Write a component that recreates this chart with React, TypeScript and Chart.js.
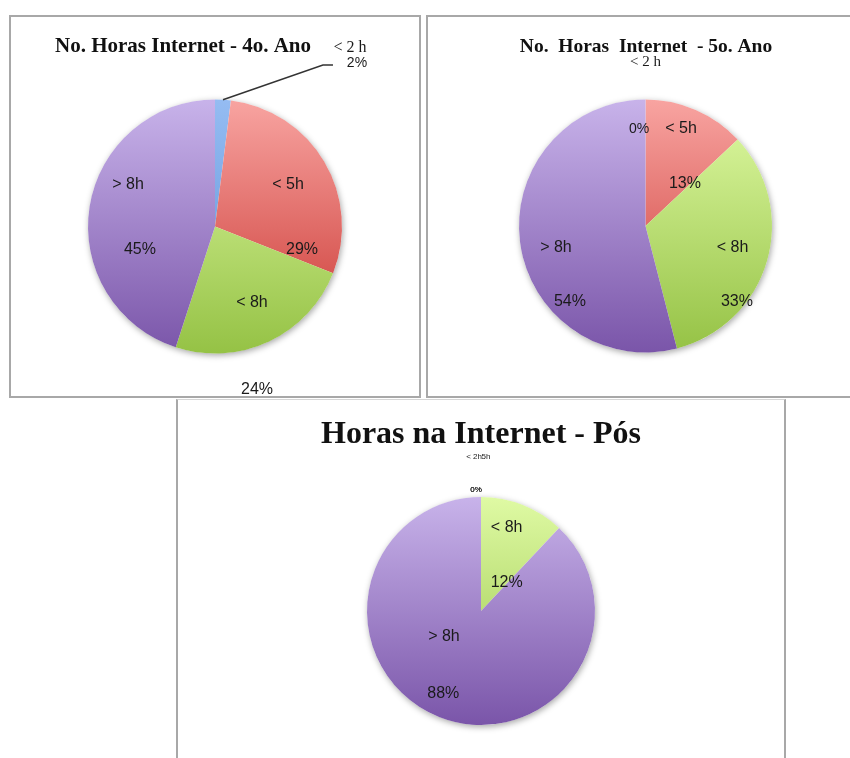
import React, { useEffect, useRef } from "react";
import { Chart, registerables } from "chart.js";

Chart.register(...registerables);

const W = 850;
const H = 758;

// ---- data ----
const categories = ["< 2h", "< 5h", "< 8h", "> 8h"];
const horas4oAno = [2, 29, 24, 45];
const horas5oAno = [0, 13, 33, 54];
const horasPos = [0, 0, 12, 88];

const title4 = "No. Horas Internet - 4o. Ano";
const title5 = "No.  Horas  Internet  - 5o. Ano";
const titlePos = "Horas na Internet - Pós";

const names4 = ["< 2 h", "< 5h", "< 8h", "> 8h"];
const names5 = ["< 2 h", "< 5h", "< 8h", "> 8h"];
const namesPos = ["< 2h", "5h", "< 8h", "> 8h"];

// ---- styles ----
const topColors = ["#95BCF2", "#F8A4A1", "#DFFAA4", "#C8B3EA"];
const bottomColors = ["#5A8ED6", "#C9342F", "#95C245", "#7A55A9"];

const SANS = "'Liberation Sans', Arial, sans-serif";
const SERIF = "'Liberation Serif', 'Times New Roman', serif";

type PieCfg = {
  values: number[];
  names: string[];
  title: string;
  titleFont: string;
  titleX: number;
  titleY: number;
  cx: number;
  cy: number;
  r: number;
  // label offsets relative to the pie centre, in units of the radius
  nameOff: number[][];
  pctOff: number[][];
  nameFonts: string[];
  pctFonts: string[];
  leader?: { index: number; pts: number[][] };
};

const big = `16px ${SANS}`;

const pies: PieCfg[] = [
  {
    values: horas4oAno,
    names: names4,
    title: title4,
    titleFont: `bold 21px ${SERIF}`,
    titleX: 183,
    titleY: 52,
    cx: 215,
    cy: 226.5,
    r: 127,
    nameOff: [
      [1.063, -1.417],
      [0.575, -0.339],
      [0.291, 0.591],
      [-0.685, -0.339],
    ],
    pctOff: [
      [1.118, -1.291],
      [0.685, 0.173],
      [0.331, 1.276],
      [-0.591, 0.173],
    ],
    nameFonts: [`16px ${SERIF}`, big, big, big],
    pctFonts: [`14px ${SANS}`, big, big, big],
    leader: {
      index: 0,
      pts: [
        [0.85, -1.272],
        [0.929, -1.272],
      ],
    },
  },
  {
    values: horas5oAno,
    names: names5,
    title: title5,
    titleFont: `bold 19.5px ${SERIF}`,
    titleX: 646,
    titleY: 52,
    cx: 645.5,
    cy: 226,
    r: 126.5,
    nameOff: [
      [0.0, -1.3],
      [0.281, -0.775],
      [0.688, 0.166],
      [-0.708, 0.166],
    ],
    pctOff: [
      [-0.051, -0.775],
      [0.312, -0.34],
      [0.723, 0.593],
      [-0.597, 0.593],
    ],
    nameFonts: [`15px ${SERIF}`, big, big, big],
    pctFonts: [`14px ${SANS}`, big, big, big],
  },
  {
    values: horasPos,
    names: namesPos,
    title: titlePos,
    titleFont: `bold 32px ${SERIF}`,
    titleX: 481,
    titleY: 443,
    cx: 481,
    cy: 611,
    r: 114,
    nameOff: [
      [-0.061, -1.36],
      [0.044, -1.36],
      [0.225, -0.737],
      [-0.325, 0.219],
    ],
    pctOff: [
      [-0.044, -1.07],
      [-0.044, -1.07],
      [0.225, -0.259],
      [-0.331, 0.719],
    ],
    nameFonts: [`8px ${SANS}`, `8px ${SANS}`, big, big],
    pctFonts: [`8px ${SANS}`, `8px ${SANS}`, big, big],
  },
];

const labelPlugin = {
  id: "pieLabels",
  beforeDatasetsDraw(chart: any) {
    const a = chart.getDatasetMeta(0).data[0] as any;
    if (!a) return;
    const c = chart.ctx as CanvasRenderingContext2D;
    c.save();
    c.shadowColor = "rgba(0,0,0,0.35)";
    c.shadowBlur = 6;
    c.shadowOffsetX = 1;
    c.shadowOffsetY = 2;
    c.fillStyle = "#ffffff";
    c.beginPath();
    c.arc(a.x, a.y, a.outerRadius, 0, Math.PI * 2);
    c.fill();
    c.restore();
  },
  afterDatasetsDraw(chart: any, _args: any, opts: any) {
    const cfg: PieCfg = opts.cfg;
    if (!cfg) return;
    const c = chart.ctx as CanvasRenderingContext2D;
    const arcs = chart.getDatasetMeta(0).data as any[];
    c.save();
    // title
    c.fillStyle = "#111111";
    c.font = cfg.titleFont;
    c.textAlign = "center";
    c.textBaseline = "alphabetic";
    c.fillText(cfg.title, cfg.titleX, cfg.titleY);

    c.fillStyle = "#1A1A1A";
    c.textBaseline = "middle";
    arcs.forEach((arc, i) => {
      const x = arc.x;
      const y = arc.y;
      const r = arc.outerRadius;
      const n = cfg.nameOff[i];
      const p = cfg.pctOff[i];
      c.font = cfg.nameFonts[i];
      c.fillText(cfg.names[i], x + n[0] * r, y + n[1] * r + 1);
      c.font = cfg.pctFonts[i];
      c.fillText(`${cfg.values[i]}%`, x + p[0] * r, y + p[1] * r + 1);
    });

    if (cfg.leader) {
      const arc = arcs[cfg.leader.index];
      const mid = (arc.startAngle + arc.endAngle) / 2;
      const r = arc.outerRadius;
      c.strokeStyle = "#333333";
      c.lineWidth = 1.5;
      c.beginPath();
      c.moveTo(arc.x + Math.cos(mid) * r, arc.y + Math.sin(mid) * r);
      cfg.leader.pts.forEach((pt) => c.lineTo(arc.x + pt[0] * r, arc.y + pt[1] * r));
      c.stroke();
    }
    c.restore();
  },
};

export default function App() {
  const r0 = useRef<HTMLCanvasElement>(null);
  const r1 = useRef<HTMLCanvasElement>(null);
  const r2 = useRef<HTMLCanvasElement>(null);

  useEffect(() => {
    const refs = [r0, r1, r2];
    const charts = pies.map((cfg, k) => {
      const canvas = refs[k].current!;
      return new Chart(canvas, {
        type: "pie",
        data: {
          labels: categories,
          datasets: [
            {
              data: cfg.values,
              borderWidth: 0,
              backgroundColor: (ctx: any) => {
                const i = ctx.dataIndex;
                const chart = ctx.chart;
                const area = chart.chartArea;
                if (!area) return topColors[i];
                const g = chart.ctx.createLinearGradient(0, area.top, 0, area.bottom);
                g.addColorStop(0, topColors[i]);
                g.addColorStop(1, bottomColors[i]);
                return g;
              },
            },
          ],
        },
        options: {
          responsive: false,
          animation: false,
          events: [],
          layout: {
            padding: {
              left: cfg.cx - cfg.r,
              top: cfg.cy - cfg.r,
              right: W - cfg.cx - cfg.r,
              bottom: H - cfg.cy - cfg.r,
            },
          },
          plugins: {
            legend: { display: false },
            tooltip: { enabled: false },
            title: { display: false },
            pieLabels: { cfg },
          } as any,
        },
        plugins: [labelPlugin],
      });
    });
    return () => charts.forEach((ch) => ch.destroy());
  }, []);

  const canvasStyle: React.CSSProperties = {
    position: "absolute",
    left: 0,
    top: 0,
    width: W,
    height: H,
  };
  const boxBase: React.CSSProperties = {
    position: "absolute",
    boxSizing: "border-box",
    border: "2px solid #A8A8A8",
    background: "transparent",
  };

  return (
    <div
      style={{
        position: "absolute",
        left: 0,
        top: 0,
        width: W,
        height: H,
        overflow: "hidden",
        background: "#ffffff",
      }}
    >
      <div style={{ ...boxBase, left: 9, top: 15, width: 412, height: 383 }} />
      <div style={{ ...boxBase, left: 426, top: 15, width: 432, height: 383 }} />
      <div
        style={{
          ...boxBase,
          left: 176,
          top: 399,
          width: 610,
          height: 420,
          borderTop: "1px solid #D6D6D6",
        }}
      />
      <canvas ref={r0} width={W} height={H} style={canvasStyle} />
      <canvas ref={r1} width={W} height={H} style={canvasStyle} />
      <canvas ref={r2} width={W} height={H} style={canvasStyle} />
    </div>
  );
}
